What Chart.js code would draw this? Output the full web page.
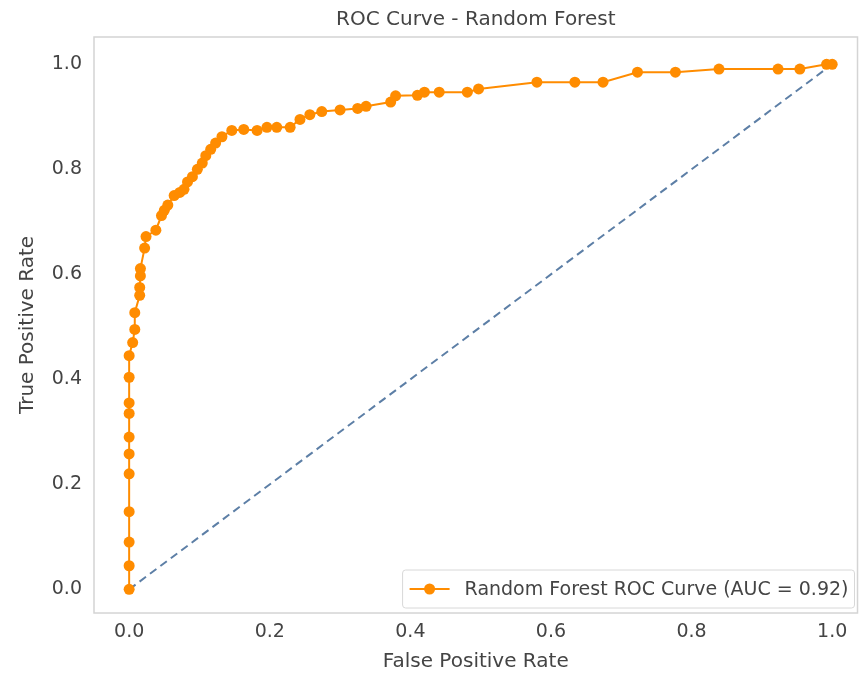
<!DOCTYPE html>
<html>
<head>
<meta charset="utf-8">
<script src="https://cdn.jsdelivr.net/npm/chart.js@4.4.0/dist/chart.umd.min.js"></script>
<style>
  html, body { margin: 0; padding: 0; background: #fff; }
  #wrap { width: 863px; height: 682px; }
</style>
</head>
<body>
<div id="wrap"><canvas id="chart" width="863" height="682"></canvas></div>
<script>
// ROC points
var fprValues = [0, 0, 0, 0, 0, 0, 0, 0, 0, 0, 0, 0.005, 0.008, 0.008, 0.015, 0.015, 0.016, 0.016, 0.022, 0.024,
  0.038, 0.046, 0.05, 0.055, 0.064, 0.072, 0.078, 0.083, 0.09, 0.097, 0.104, 0.109, 0.116, 0.123, 0.132, 0.146,
  0.163, 0.182, 0.196, 0.21, 0.229, 0.243, 0.257, 0.274, 0.3, 0.325, 0.337, 0.372, 0.379, 0.41, 0.42, 0.441,
  0.481, 0.497, 0.58, 0.634, 0.674, 0.723, 0.777, 0.839, 0.923, 0.954, 0.992, 1];
var tprValues = [0, 0.045, 0.09, 0.148, 0.22, 0.258, 0.29, 0.335, 0.355, 0.404, 0.445, 0.47, 0.495, 0.527, 0.56, 0.575,
  0.597, 0.611, 0.65, 0.672, 0.684, 0.712, 0.722, 0.732, 0.75, 0.756, 0.762, 0.776, 0.786, 0.8, 0.812, 0.826,
  0.838, 0.85, 0.862, 0.874, 0.876, 0.874, 0.88, 0.88, 0.88, 0.895, 0.904, 0.91, 0.913, 0.916, 0.92, 0.928,
  0.94, 0.941, 0.947, 0.947, 0.947, 0.953, 0.966, 0.966, 0.966, 0.985, 0.985, 0.991, 0.991, 0.991, 1, 1];
var chanceX = [0, 1];
var chanceY = [0, 1];
var xTicks = [0, 0.2, 0.4, 0.6, 0.8, 1.0];
var yTicks = [0, 0.2, 0.4, 0.6, 0.8, 1.0];
var curveLabel = 'Random Forest ROC Curve (AUC = 0.92)';

var FONT = "'DejaVu Sans', sans-serif";
var TEXT = '#444444';
var ORANGE = '#ff8c00';

function toPoints(xs, ys) {
  var pts = [];
  for (var i = 0; i < xs.length; i++) pts.push({x: xs[i], y: ys[i]});
  return pts;
}

// light grey box round the plot
var framePlugin = {
  id: 'frame',
  beforeDatasetsDraw: function(chart) {
    var a = chart.chartArea, ctx = chart.ctx;
    ctx.save();
    ctx.strokeStyle = '#d4d4d4';
    ctx.lineWidth = 1.5;
    ctx.strokeRect(a.left, a.top, a.right - a.left, a.bottom - a.top);
    ctx.restore();
  }
};

// legend in the lower right corner, inside the axes
var innerLegend = {
  id: 'innerLegend',
  afterDraw: function(chart) {
    var a = chart.chartArea, ctx = chart.ctx;
    var ds = chart.data.datasets[0];
    ctx.save();
    ctx.font = '19px ' + FONT;
    var tw = ctx.measureText(ds.label).width;
    var w = 7 + 40 + 15 + tw + 6, h = 38;
    var x = a.right - 3 - w, y = a.bottom - 5 - h;
    ctx.fillStyle = 'rgba(255,255,255,0.85)';
    ctx.strokeStyle = '#d8d8d8';
    ctx.lineWidth = 1;
    ctx.beginPath();
    ctx.roundRect(x, y, w, h, 3);
    ctx.fill();
    ctx.stroke();
    var cy = y + h / 2;
    ctx.strokeStyle = ORANGE;
    ctx.lineWidth = 2;
    ctx.beginPath();
    ctx.moveTo(x + 7, cy);
    ctx.lineTo(x + 47, cy);
    ctx.stroke();
    ctx.fillStyle = ORANGE;
    ctx.beginPath();
    ctx.arc(x + 27, cy, 5.5, 0, Math.PI * 2);
    ctx.fill();
    ctx.fillStyle = TEXT;
    ctx.textBaseline = 'middle';
    ctx.fillText(ds.label, x + 62, cy + 1);
    ctx.restore();
  }
};

var ctx = document.getElementById('chart').getContext('2d');
var myChart = new Chart(ctx, {
  type: 'scatter',
  data: {
    datasets: [{
      label: curveLabel,
      data: toPoints(fprValues, tprValues),
      showLine: true,
      borderColor: ORANGE,
      backgroundColor: ORANGE,
      borderWidth: 2,
      pointRadius: 5.5,
      pointBorderWidth: 0,
      pointBackgroundColor: ORANGE
    }, {
      label: 'chance',
      data: toPoints(chanceX, chanceY),
      showLine: true,
      borderColor: '#5d7fa6',
      borderWidth: 2,
      borderDash: [8, 5],
      pointRadius: 0
    }]
  },
  options: {
    responsive: false,
    animation: false,
    layout: { padding: { left: 0, right: 3, top: 0, bottom: 0 } },
    plugins: {
      legend: { display: false },
      tooltip: { enabled: false },
      title: {
        display: true,
        text: 'ROC Curve - Random Forest',
        fullSize: false,
        color: TEXT,
        font: { family: FONT, size: 20, weight: 'normal' },
        padding: { top: 8, bottom: 5 }
      }
    },
    scales: {
      x: {
        type: 'linear',
        min: -0.05,
        max: 1.036,
        grid: { display: false, drawTicks: false },
        border: { display: false },
        afterBuildTicks: function(scale) {
          scale.ticks = xTicks.map(function(v) { return {value: v}; });
        },
        afterFit: function(scale) { scale.height = 69; },
        ticks: {
          color: TEXT,
          padding: 8,
          maxRotation: 0,
          font: { family: FONT, size: 19 },
          callback: function(v) { return Number(v).toFixed(1); }
        },
        title: {
          display: true,
          text: 'False Positive Rate',
          color: TEXT,
          font: { family: FONT, size: 20 },
          padding: { top: 0, bottom: 8 }
        }
      },
      y: {
        type: 'linear',
        min: -0.045,
        max: 1.052,
        grid: { display: false, drawTicks: false },
        border: { display: false },
        afterBuildTicks: function(scale) {
          scale.ticks = yTicks.map(function(v) { return {value: v}; });
        },
        afterFit: function(scale) { scale.width = 94; },
        ticks: {
          color: TEXT,
          padding: 12,
          font: { family: FONT, size: 19 },
          callback: function(v) { return Number(v).toFixed(1); }
        },
        title: {
          display: true,
          text: 'True Positive Rate',
          color: TEXT,
          font: { family: FONT, size: 20 },
          padding: { top: 16, bottom: 0 }
        }
      }
    }
  },
  plugins: [framePlugin, innerLegend]
});
</script>
</body>
</html>
